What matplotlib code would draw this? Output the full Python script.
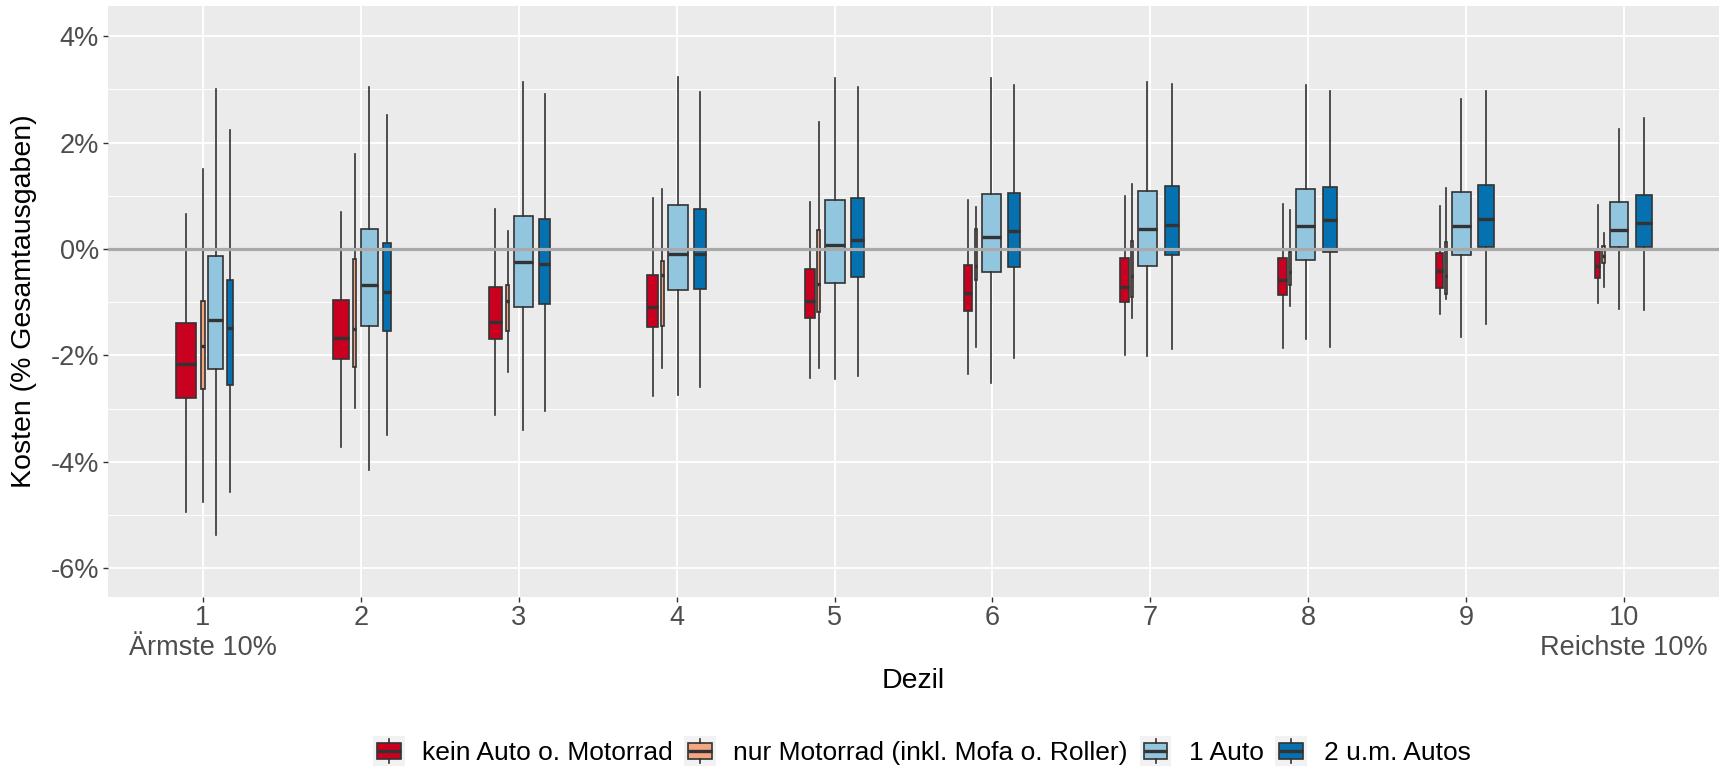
import matplotlib
matplotlib.use("Agg")
import matplotlib.pyplot as plt
from matplotlib.legend_handler import HandlerBase
from matplotlib.patches import Rectangle, Patch
from matplotlib.lines import Line2D
from matplotlib.ticker import FixedLocator, FuncFormatter

plt.rcParams["font.family"] = ["Liberation Sans", "DejaVu Sans"]

dezile = list(range(1, 11))
x_labels = ["1\nÄrmste 10%", "2", "3", "4", "5", "6", "7", "8", "9", "10\nReichste 10%"]
gruppen = ["kein Auto o. Motorrad", "nur Motorrad (inkl. Mofa o. Roller)", "1 Auto", "2 u.m. Autos"]
farben = ["#CA0020", "#F4A582", "#92C5DE", "#0571B0"]

# je Dezil: (Whisker unten, Q1, Median, Q3, Whisker oben) in % der Gesamtausgaben
kein_auto = [(-4.95, -2.81, -2.17, -1.39, 0.65), (-3.72, -2.07, -1.68, -0.95, 0.70),
             (-3.13, -1.69, -1.37, -0.71, 0.75), (-2.77, -1.47, -1.10, -0.49, 0.96),
             (-2.43, -1.29, -0.97, -0.37, 0.89), (-2.35, -1.17, -0.83, -0.31, 0.92),
             (-2.00, -1.00, -0.71, -0.17, 0.99), (-1.87, -0.87, -0.59, -0.17, 0.84),
             (-1.22, -0.73, -0.42, -0.07, 0.80), (-1.01, -0.55, -0.32, -0.03, 0.83)]
nur_motorrad = [(-4.75, -2.63, -1.83, -0.97, 1.50), (-2.99, -2.21, -1.51, -0.18, 1.79),
                (-2.32, -1.55, -0.97, -0.67, 0.33), (-2.23, -1.45, -0.48, -0.22, 1.12),
                (-2.23, -1.19, -0.65, 0.35, 2.39), (-1.85, -0.58, -0.32, 0.37, 0.79),
                (-1.30, -0.91, -0.50, 0.15, 1.23), (-1.07, -0.67, -0.43, -0.05, 0.73),
                (-0.94, -0.85, -0.50, 0.14, 1.15), (-0.71, -0.27, -0.13, 0.05, 0.31)]
ein_auto = [(-5.38, -2.25, -1.33, -0.13, 3.01), (-4.15, -1.45, -0.68, 0.37, 3.05),
            (-3.40, -1.09, -0.25, 0.62, 3.15), (-2.75, -0.77, -0.09, 0.83, 3.23),
            (-2.44, -0.64, 0.07, 0.93, 3.21), (-2.52, -0.44, 0.23, 1.04, 3.21),
            (-2.02, -0.32, 0.37, 1.09, 3.15), (-1.70, -0.21, 0.43, 1.12, 3.08),
            (-1.65, -0.11, 0.43, 1.08, 2.82), (-1.13, 0.03, 0.35, 0.89, 2.25)]
zwei_autos = [(-4.57, -2.55, -1.49, -0.59, 2.24), (-3.50, -1.55, -0.81, 0.11, 2.52),
              (-3.05, -1.03, -0.29, 0.57, 2.91), (-2.60, -0.75, -0.09, 0.76, 2.96),
              (-2.39, -0.52, 0.17, 0.95, 3.05), (-2.05, -0.33, 0.34, 1.05, 3.09),
              (-1.89, -0.11, 0.46, 1.19, 3.11), (-1.85, -0.05, 0.55, 1.17, 2.98),
              (-1.41, 0.03, 0.56, 1.20, 2.98), (-1.15, 0.04, 0.49, 1.02, 2.47)]

# relative Boxbreite (varwidth, ~ Wurzel der Fallzahl)
kein_auto_n = [1.00, 0.82, 0.70, 0.56, 0.49, 0.44, 0.43, 0.43, 0.34, 0.30]
nur_motorrad_n = [0.18, 0.16, 0.15, 0.13, 0.16, 0.11, 0.10, 0.10, 0.10, 0.13]
ein_auto_n = [0.74, 0.85, 0.97, 0.97, 0.97, 0.97, 0.98, 0.98, 0.97, 0.95]
zwei_autos_n = [0.26, 0.39, 0.51, 0.59, 0.62, 0.64, 0.74, 0.72, 0.79, 0.80]

EDGE = "#333333"
LW = 1.2
BOX_MAX = 0.126    # breiteste Box in Dezil-Einheiten
PAD = 0.30         # Abstand wie position_dodge2

werte = [kein_auto, nur_motorrad, ein_auto, zwei_autos]
breiten = [kein_auto_n, nur_motorrad_n, ein_auto_n, zwei_autos_n]

# dodge2: Boxen nebeneinander, Gruppe um den Dezil-Tick zentriert
positionen = [[] for _ in werte]
box_w = [[] for _ in werte]
for i, d in enumerate(dezile):
    w = [b[i] * BOX_MAX for b in breiten]
    slots = [wi / (1 - PAD) for wi in w]
    links = d - sum(slots) / 2
    for g in range(len(werte)):
        positionen[g].append(links + slots[g] / 2)
        box_w[g].append(w[g])
        links += slots[g]


class BoxKey(HandlerBase):
    def create_artists(self, legend, orig_handle, xdescent, ydescent, width, height, fontsize, trans):
        x0, y0 = -xdescent, -ydescent
        cx = x0 + width / 2
        bg = Rectangle((x0, y0), width, height, facecolor="#F2F2F2", edgecolor="none", transform=trans)
        box = Rectangle((x0 + 0.125 * width, y0 + 0.25 * height), 0.75 * width, 0.5 * height,
                        facecolor=orig_handle.get_facecolor(), edgecolor=EDGE, linewidth=LW, transform=trans)
        med = Line2D([x0 + 0.125 * width, x0 + 0.875 * width], [y0 + 0.5 * height] * 2,
                     color=EDGE, linewidth=2 * LW, solid_capstyle="butt", transform=trans)
        w1 = Line2D([cx, cx], [y0 + 0.1 * height, y0 + 0.25 * height], color=EDGE, linewidth=LW, transform=trans)
        w2 = Line2D([cx, cx], [y0 + 0.75 * height, y0 + 0.9 * height], color=EDGE, linewidth=LW, transform=trans)
        return [bg, box, med, w1, w2]


fig = plt.figure(figsize=(17.23, 7.68), dpi=100)
ax = fig.add_axes([108 / 1723, 1 - 597 / 768, (1719 - 108) / 1723, 591 / 768])
ax.set_facecolor("#EBEBEB")
for s in ax.spines.values():
    s.set_visible(False)

for g, daten in enumerate(werte):
    stats = [dict(whislo=lo, q1=q1, med=med, q3=q3, whishi=hi, fliers=[])
             for lo, q1, med, q3, hi in daten]
    ax.bxp(stats, positions=positionen[g], widths=box_w[g], patch_artist=True,
           showfliers=False, showcaps=False, manage_ticks=False, zorder=3,
           boxprops=dict(facecolor=farben[g], edgecolor=EDGE, linewidth=LW),
           whiskerprops=dict(color=EDGE, linewidth=LW),
           medianprops=dict(color=EDGE, linewidth=2 * LW, solid_capstyle="butt"))

ax.axhline(0, color="#A9A9A9", linewidth=2.3, zorder=4)

ax.set_xlim(0.4, 10.6)
ax.set_ylim(-6.545, 4.57)
ax.set_xticks(dezile)
ax.set_xticklabels(x_labels)
ax.set_yticks([-6, -4, -2, 0, 2, 4])
ax.yaxis.set_major_formatter(FuncFormatter(lambda v, _: f"{v:.0f}%"))
ax.yaxis.set_minor_locator(FixedLocator([-5, -3, -1, 1, 3]))
ax.grid(which="major", color="white", linewidth=1.3)
ax.grid(which="minor", axis="y", color="white", linewidth=0.65)
ax.set_axisbelow(True)
ax.tick_params(which="major", length=3.5, width=1.0, color=EDGE, labelsize=19.5, labelcolor="#4D4D4D")
ax.tick_params(axis="x", pad=2.0)
ax.tick_params(axis="y", pad=3.0)
ax.tick_params(which="minor", length=0)

ax.set_xlabel("Dezil", fontsize=20.5)
ax.xaxis.label.set_va("center")
ax.xaxis.set_label_coords(0.5, (597 - 681) / 591)
ax.set_ylabel("Kosten (% Gesamtausgaben)", fontsize=20.5)
ax.yaxis.label.set_va("center")
ax.yaxis.set_label_coords((24 - 108) / 1611, 0.5)

handles = [Patch(facecolor=c) for c in farben]
fig.legend(handles, gruppen, handler_map={Patch: BoxKey()}, ncol=4, fontsize=19,
           frameon=False, loc="center", bbox_to_anchor=(922 / 1723, 1 - 751 / 768),
           handlelength=1.2, handleheight=1.4, handletextpad=0.65, columnspacing=0.45,
           borderpad=0, borderaxespad=0)

fig.savefig("out.png", dpi=100)
